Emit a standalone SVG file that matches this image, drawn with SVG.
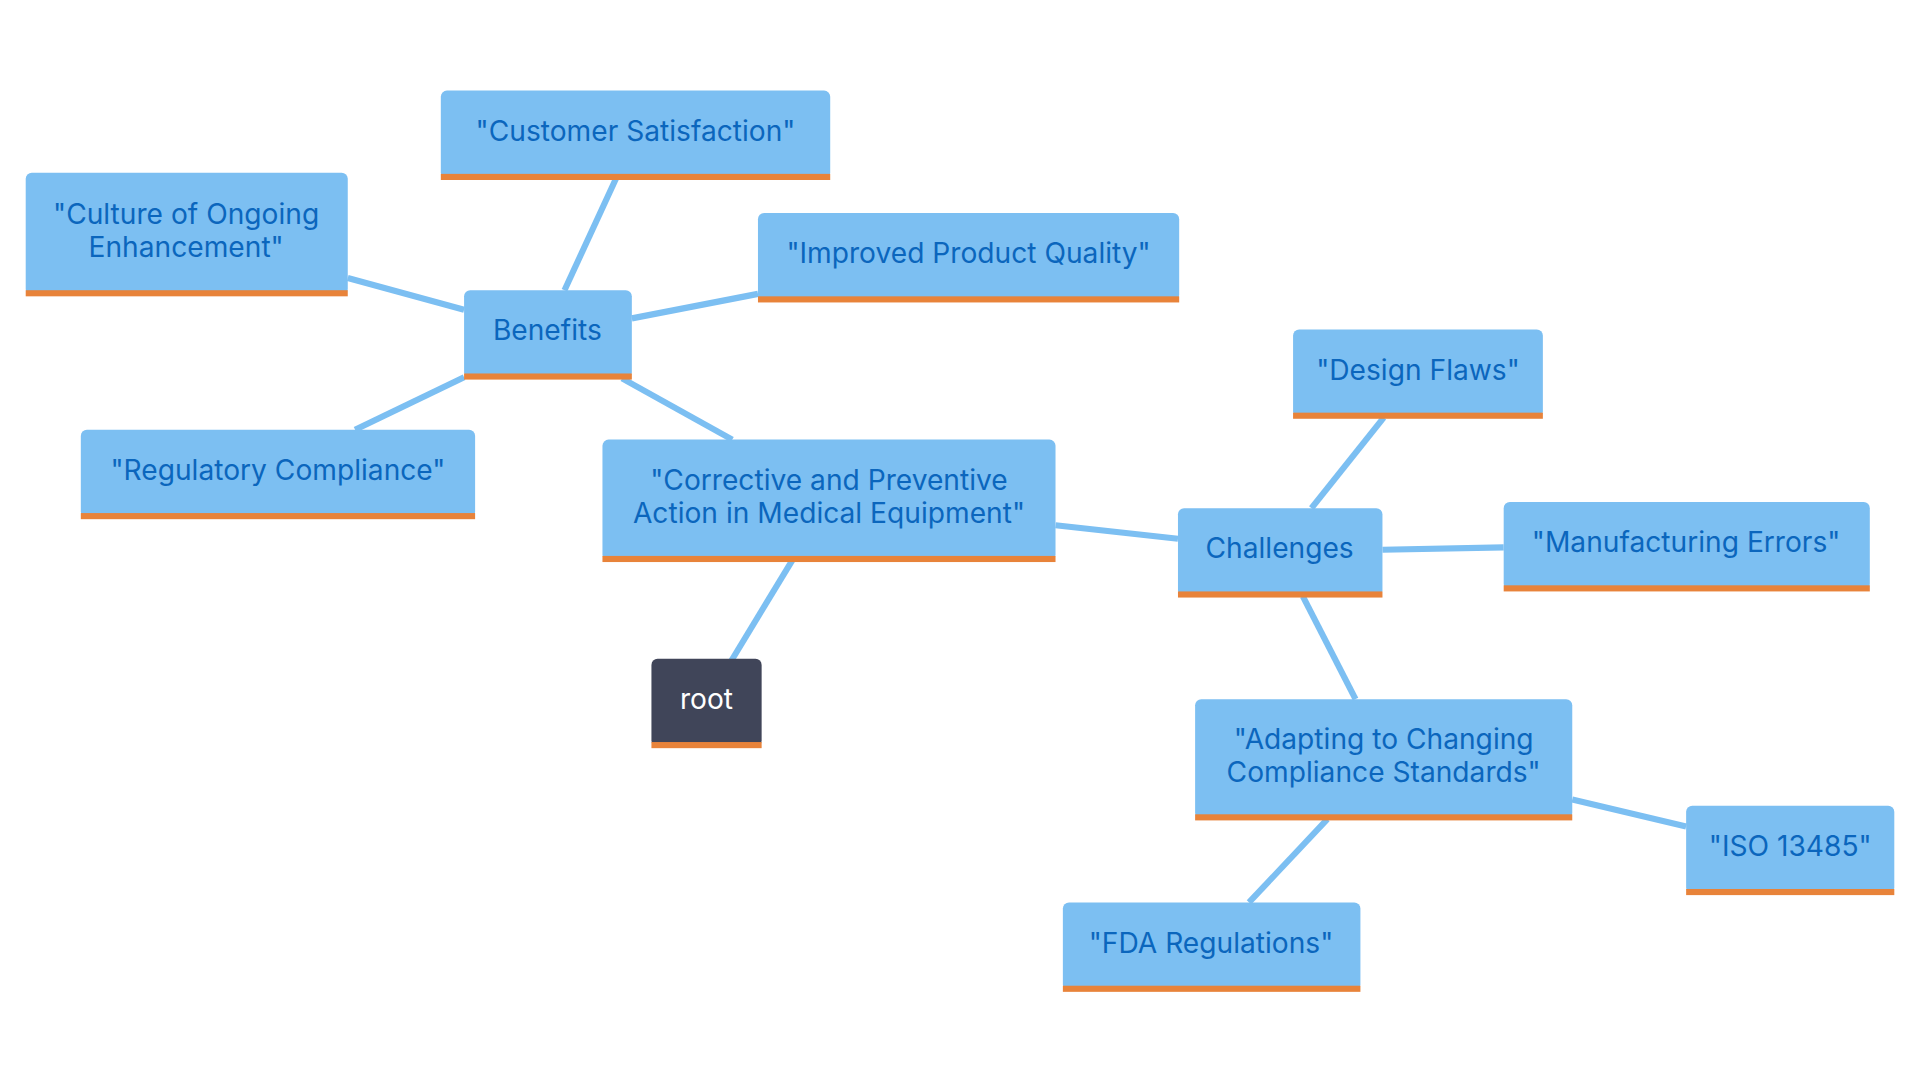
<svg xmlns="http://www.w3.org/2000/svg" width="1920" height="1080" viewBox="0 0 1920 1080">
<style>
.b{fill:#7cbff2}
.bar{fill:#e8833a}
.t{font-family:Inter,"Noto Sans",sans-serif;font-size:23px;fill:#0b66bd;text-anchor:middle}
.e{stroke:#7cbff2;stroke-width:5;fill:none}
</style>
<rect width="1920" height="1080" fill="#fff"/>
<g transform="scale(1.2245)">
<g id="connectors">
<line class="e" x1="597" y1="540" x2="648" y2="456"/>
<line class="e" x1="598" y1="359" x2="508" y2="309"/>
<line class="e" x1="461" y1="237" x2="503" y2="146"/>
<line class="e" x1="379" y1="253" x2="284" y2="227"/>
<line class="e" x1="516" y1="260" x2="619" y2="240"/>
<line class="e" x1="379" y1="308" x2="290" y2="351"/>
<line class="e" x1="862" y1="429" x2="962" y2="440"/>
<line class="e" x1="1071" y1="415" x2="1130" y2="341"/>
<line class="e" x1="1129" y1="449" x2="1228" y2="447"/>
<line class="e" x1="1064" y1="487" x2="1107" y2="571"/>
<line class="e" x1="1284" y1="653" x2="1377" y2="675"/>
<line class="e" x1="1084" y1="669" x2="1020" y2="737"/>
</g>
<g id="customer"><rect class="b" x="360" y="74" width="318" height="72" rx="5"/><rect class="bar" x="360" y="142" width="318" height="5"/><text class="t" x="519" y="115">"Customer Satisfaction"</text></g>
<g id="culture"><rect class="b" x="21" y="141" width="263" height="100" rx="5"/><rect class="bar" x="21" y="237" width="263" height="5"/><text class="t" x="152" y="183">"Culture of Ongoing</text><text class="t" x="152" y="210">Enhancement"</text></g>
<g id="improved"><rect class="b" x="619" y="174" width="344" height="72" rx="5"/><rect class="bar" x="619" y="242" width="344" height="5"/><text class="t" x="791" y="215">"Improved Product Quality"</text></g>
<g id="benefits"><rect class="b" x="379" y="237" width="137" height="72" rx="5"/><rect class="bar" x="379" y="305" width="137" height="5"/><text class="t" x="447" y="278">Benefits</text></g>
<g id="regulatory"><rect class="b" x="66" y="351" width="322" height="72" rx="5"/><rect class="bar" x="66" y="419" width="322" height="5"/><text class="t" x="227" y="392">"Regulatory Compliance"</text></g>
<g id="capa"><rect class="b" x="492" y="359" width="370" height="99" rx="5"/><rect class="bar" x="492" y="454" width="370" height="5"/><text class="t" x="677" y="400">"Corrective and Preventive</text><text class="t" x="677" y="427">Action in Medical Equipment"</text></g>
<g id="root"><rect fill="#404559" x="532" y="538" width="90" height="72" rx="5"/><rect class="bar" x="532" y="606" width="90" height="5"/><text class="t" x="577" y="579" style="fill:#fff">root</text></g>
<g id="design"><rect class="b" x="1056" y="269" width="204" height="72" rx="5"/><rect class="bar" x="1056" y="337" width="204" height="5"/><text class="t" x="1158" y="310">"Design Flaws"</text></g>
<g id="challenges"><rect class="b" x="962" y="415" width="167" height="72" rx="5"/><rect class="bar" x="962" y="483" width="167" height="5"/><text class="t" x="1045" y="456">Challenges</text></g>
<g id="manufacturing"><rect class="b" x="1228" y="410" width="299" height="72" rx="5"/><rect class="bar" x="1228" y="478" width="299" height="5"/><text class="t" x="1377" y="451">"Manufacturing Errors"</text></g>
<g id="adapting"><rect class="b" x="976" y="571" width="308" height="98" rx="5"/><rect class="bar" x="976" y="665" width="308" height="5"/><text class="t" x="1130" y="612">"Adapting to Changing</text><text class="t" x="1130" y="639">Compliance Standards"</text></g>
<g id="iso"><rect class="b" x="1377" y="658" width="170" height="72" rx="5"/><rect class="bar" x="1377" y="726" width="170" height="5"/><text class="t" x="1462" y="699">"ISO 13485"</text></g>
<g id="fda"><rect class="b" x="868" y="737" width="243" height="72" rx="5"/><rect class="bar" x="868" y="805" width="243" height="5"/><text class="t" x="989" y="778">"FDA Regulations"</text></g>
</g>
</svg>
